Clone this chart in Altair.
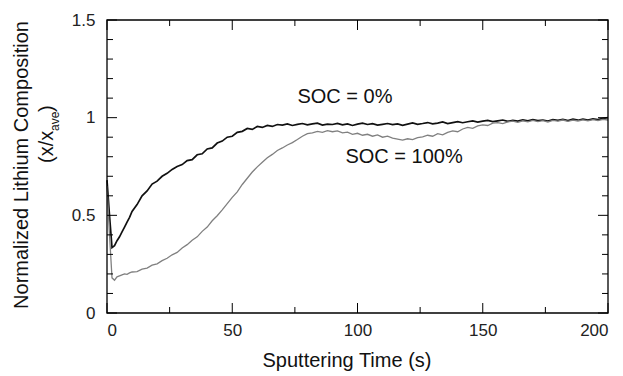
import altair as alt
import pandas as pd

# ---- data ----
t_soc0 = [0, 1, 2, 3, 4, 5, 6, 7, 8, 9, 10] + list(range(12, 201, 2))
y_soc0 = [0.68, 0.50, 0.335, 0.345, 0.37, 0.39, 0.415, 0.44, 0.465, 0.49, 0.52,
          0.555, 0.60, 0.625, 0.66, 0.675, 0.70, 0.715, 0.735, 0.75, 0.76,
          0.78, 0.785, 0.81, 0.815, 0.84, 0.845, 0.87, 0.88, 0.90, 0.905,
          0.925, 0.93, 0.945, 0.94, 0.955, 0.95, 0.96, 0.955, 0.965, 0.962,
          0.968, 0.96, 0.966, 0.97, 0.963, 0.968, 0.972, 0.962, 0.967, 0.965,
          0.971, 0.963, 0.968, 0.96, 0.967, 0.972, 0.965, 0.969, 0.962, 0.966,
          0.97, 0.964, 0.968, 0.961, 0.967, 0.973, 0.966, 0.97, 0.975, 0.968,
          0.972, 0.978, 0.97, 0.975, 0.98, 0.974, 0.979, 0.983, 0.977, 0.982,
          0.986, 0.98, 0.984, 0.988, 0.981, 0.986, 0.982, 0.989, 0.984, 0.99,
          0.985, 0.988, 0.983, 0.99, 0.986, 0.991, 0.985, 0.992, 0.987, 0.993,
          0.988, 0.994, 0.99, 0.996, 1.0]

t_soc100 = [0, 1, 2, 3, 4, 5, 6, 7, 8, 9, 10] + list(range(12, 201, 2))
y_soc100 = [0.65, 0.40, 0.18, 0.168, 0.185, 0.19, 0.195, 0.20, 0.198, 0.205, 0.21,
            0.212, 0.225, 0.23, 0.245, 0.252, 0.268, 0.28, 0.298, 0.31, 0.333,
            0.35, 0.372, 0.39, 0.418, 0.44, 0.472, 0.498, 0.528, 0.56, 0.592,
            0.62, 0.658, 0.69, 0.722, 0.748, 0.772, 0.795, 0.812, 0.832, 0.845,
            0.86, 0.872, 0.888, 0.905, 0.918, 0.922, 0.93, 0.925, 0.934, 0.928,
            0.932, 0.922, 0.926, 0.915, 0.92, 0.91, 0.915, 0.905, 0.912, 0.90,
            0.905, 0.895, 0.89, 0.885, 0.892, 0.888, 0.898, 0.902, 0.91, 0.905,
            0.918, 0.912, 0.925, 0.932, 0.928, 0.942, 0.95, 0.945, 0.958, 0.963,
            0.96, 0.972, 0.975, 0.97, 0.978, 0.982, 0.976, 0.984, 0.979, 0.986,
            0.98, 0.985, 0.978, 0.986, 0.982, 0.988, 0.981, 0.987, 0.983, 0.989,
            0.984, 0.99, 0.985, 0.991, 0.988]

series_names = ["SOC = 0%", "SOC = 100%"]
series_colors = ["#111111", "#808080"]

label_text = ["SOC = 0%", "SOC = 100%"]
label_x = [95, 118.6]
label_y = [1.106, 0.80]

x_major = [0, 50, 100, 150, 200]
x_minor = [25, 75, 125, 175]
y_major = [0, 0.5, 1, 1.5]
y_minor = [0.1, 0.2, 0.3, 0.4, 0.6, 0.7, 0.8, 0.9, 1.1, 1.2, 1.3, 1.4]

W, H = 501, 293
FONT = "Liberation Sans"

df = pd.concat([
    pd.DataFrame({"t": t_soc0, "v": y_soc0, "s": series_names[0]}),
    pd.DataFrame({"t": t_soc100, "v": y_soc100, "s": series_names[1]}),
])

xs = alt.Scale(domain=[0, 200], nice=False, zero=False)
ys = alt.Scale(domain=[0, 1.5], nice=False, zero=False)

xaxis = alt.Axis(values=x_major, format="d", ticks=False, domain=False, grid=False,
                 labelFont=FONT, labelFontSize=17, labelColor="#222", labelPadding=9,
                 title=None)
yaxis = alt.Axis(values=y_major, ticks=False, domain=False, grid=False,
                 labelFont=FONT, labelFontSize=17, labelColor="#222", labelPadding=12,
                 labelExpr="datum.value == 0 ? '0' : datum.value == 1 ? '1' : format(datum.value, '.1f')",
                 title=None)

lines = alt.Chart(df).mark_line(interpolate="linear").encode(
    x=alt.X("t:Q", scale=xs, axis=xaxis),
    y=alt.Y("v:Q", scale=ys, axis=yaxis),
    color=alt.Color("s:N", scale=alt.Scale(domain=series_names, range=series_colors), legend=None),
    strokeWidth=alt.StrokeWidth("s:N", scale=alt.Scale(domain=series_names, range=[1.7, 1.3]), legend=None),
    order=alt.Order("t:Q"),
)

def xticks(vals, length):
    d = pd.DataFrame({"t": vals})
    bot = alt.Chart(d).mark_rule(color="black", strokeWidth=1).encode(
        x=alt.X("t:Q", scale=xs), y=alt.value(H), y2=alt.value(H - length))
    top = alt.Chart(d).mark_rule(color="black", strokeWidth=1).encode(
        x=alt.X("t:Q", scale=xs), y=alt.value(0), y2=alt.value(length))
    return bot + top

def yticks(vals, length):
    d = pd.DataFrame({"v": vals})
    left = alt.Chart(d).mark_rule(color="black", strokeWidth=1).encode(
        y=alt.Y("v:Q", scale=ys), x=alt.value(0), x2=alt.value(length))
    right = alt.Chart(d).mark_rule(color="black", strokeWidth=1).encode(
        y=alt.Y("v:Q", scale=ys), x=alt.value(W), x2=alt.value(W - length))
    return left + right

labels = alt.Chart(pd.DataFrame({"x": label_x, "y": label_y, "txt": label_text})).mark_text(
    font=FONT, fontSize=20, color="#111", align="center", baseline="middle"
).encode(x=alt.X("x:Q", scale=xs), y=alt.Y("y:Q", scale=ys), text="txt:N")

one = pd.DataFrame({"a": [0]})
xtitle = alt.Chart(one).mark_text(
    text="Sputtering Time (s)", font=FONT, fontSize=20, color="#111",
    align="center", baseline="middle"
).encode(x=alt.value(240), y=alt.value(H + 48))

ytitle1 = alt.Chart(one).mark_text(
    text="Normalized Lithium Composition", font=FONT, fontSize=20, color="#111",
    align="center", baseline="middle", angle=270
).encode(x=alt.value(-85), y=alt.value(145))

ytitle2a = alt.Chart(one).mark_text(
    text="(x/x", font=FONT, fontSize=20, color="#111",
    align="left", baseline="middle", angle=270
).encode(x=alt.value(-60), y=alt.value(143))

ytitle2b = alt.Chart(one).mark_text(
    text="ave", font=FONT, fontSize=12, color="#111",
    align="left", baseline="middle", angle=270
).encode(x=alt.value(-52), y=alt.value(111))

ytitle2c = alt.Chart(one).mark_text(
    text=")", font=FONT, fontSize=20, color="#111",
    align="left", baseline="middle", angle=270
).encode(x=alt.value(-60), y=alt.value(92))

frame = alt.Chart(one).mark_rect(fill=None, stroke="black", strokeWidth=1.3).encode(
    x=alt.value(0), x2=alt.value(W), y=alt.value(0), y2=alt.value(H))

chart = alt.layer(
    lines,
    xticks(x_major, 10), xticks(x_minor, 6),
    yticks(y_major, 10), yticks(y_minor, 6),
    frame,
    labels, xtitle, ytitle1, ytitle2a, ytitle2b, ytitle2c,
).properties(
    width=W, height=H,
    background="white",
    autosize=alt.AutoSizeParams(type="none"),
    padding={"left": 107, "top": 20, "right": 15, "bottom": 63},
).configure_view(
    stroke=None
)

chart.save("out.html", embed_options={"renderer": "svg", "actions": False})
